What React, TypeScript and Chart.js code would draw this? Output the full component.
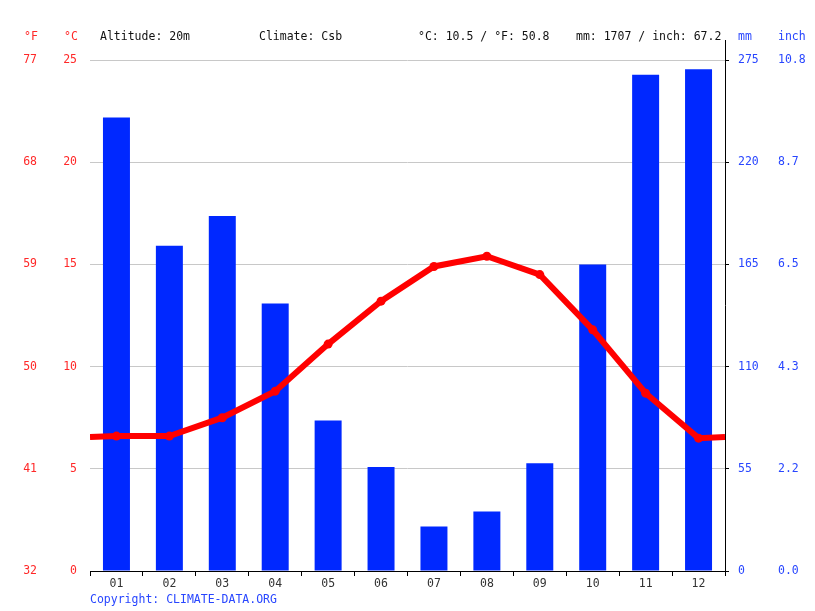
import React, { useEffect, useRef } from "react";
import { Chart, registerables } from "chart.js";

Chart.register(...registerables);

const months = ["01", "02", "03", "04", "05", "06", "07", "08", "09", "10", "11", "12"];
const temperature = [6.6, 6.6, 7.5, 8.8, 11.1, 13.2, 14.9, 15.4, 14.5, 11.8, 8.7, 6.5];
const precipitation = [244, 175, 191, 144, 81, 56, 24, 32, 58, 165, 267, 270];

const fahrenheitTicks = ["32", "41", "50", "59", "68", "77"];
const inchTicks = ["0.0", "2.2", "4.3", "6.5", "8.7", "10.8"];

const FONT = "'DejaVu Sans Mono', monospace";
const RED = "rgb(255, 40, 40)";
const BLUE = "rgb(40, 70, 255)";

// header texts drawn on top of the canvas
const headerPlugin = {
  id: "header",
  afterDraw(chart: any) {
    const { ctx, chartArea } = chart;
    ctx.save();
    ctx.font = `11.5px ${FONT}`;
    ctx.textBaseline = "middle";
    ctx.textAlign = "left";
    ctx.fillStyle = RED;
    ctx.fillText("°F", 24, 37);
    ctx.fillText("°C", 64, 37);
    ctx.fillStyle = "#111";
    ctx.fillText("Altitude: 20m", 100, 37);
    ctx.fillText("Climate: Csb", 259, 37);
    ctx.fillText("°C: 10.5 / °F: 50.8", 418, 37);
    ctx.fillText("mm: 1707 / inch: 67.2", 576, 37);
    ctx.fillStyle = BLUE;
    ctx.fillText("mm", 738, 37);
    ctx.fillText("inch", 778, 37);
    ctx.fillText("Copyright: CLIMATE-DATA.ORG", 90, 600);

    // right axis line goes up past the plot top
    ctx.strokeStyle = "#000";
    ctx.lineWidth = 1;
    ctx.beginPath();
    ctx.moveTo(Math.round(chartArea.right) + 0.5, 40);
    ctx.lineTo(Math.round(chartArea.right) + 0.5, chartArea.bottom);
    ctx.stroke();
    ctx.restore();
  },
};

const App = () => {
  const canvasRef = useRef<HTMLCanvasElement>(null);

  useEffect(() => {
    const edge = (temperature[0] + temperature[11]) / 2;
    const linePoints = [
      { x: 0.5, y: edge },
      ...temperature.map((t, i) => ({ x: i + 1, y: t })),
      { x: 12.5, y: edge },
    ];

    const chart = new Chart(canvasRef.current!, {
      type: "bar",
      data: {
        labels: months,
        datasets: [
          {
            type: "line",
            data: linePoints as any,
            xAxisID: "xl",
            yAxisID: "y",
            borderColor: "rgb(255, 0, 0)",
            backgroundColor: "rgb(255, 0, 0)",
            borderWidth: 6,
            pointRadius: linePoints.map((_, i) => (i === 0 || i === linePoints.length - 1 ? 0 : 4.5)),
            pointBorderWidth: 0,
            pointHoverRadius: 4.5,
            tension: 0,
            order: 1,
          } as any,
          {
            type: "bar",
            data: precipitation,
            xAxisID: "x",
            yAxisID: "yMM",
            backgroundColor: "rgb(0, 40, 255)",
            barPercentage: 0.51,
            categoryPercentage: 1,
            grouped: false,
            order: 2,
          },
        ],
      },
      options: {
        responsive: false,
        animation: false,
        layout: { padding: { top: 60, left: 0, right: 0, bottom: 0 } },
        plugins: {
          legend: { display: false },
          tooltip: { enabled: false },
        },
        scales: {
          x: {
            type: "category",
            position: "bottom",
            offset: true,
            grid: {
              offset: true,
              drawOnChartArea: false,
              drawTicks: true,
              tickLength: 5,
              color: "#000",
            },
            border: { display: true, color: "#000" },
            ticks: {
              color: "#333",
              font: { family: FONT, size: 11.5 },
              padding: 1,
              maxRotation: 0,
            },
            afterFit: (s: any) => {
              s.height = 40;
            },
          },
          xl: {
            type: "linear",
            display: false,
            offset: false,
            min: 0.5,
            max: 12.5,
          },
          y: {
            position: "left",
            weight: 1,
            min: 0,
            max: 25,
            ticks: {
              stepSize: 5,
              color: RED,
              padding: 13,
              font: { family: FONT, size: 11.5 },
            },
            grid: { color: "#c8c8c8", drawTicks: false },
            border: { display: false },
            afterFit: (s: any) => {
              s.width = 50;
            },
          },
          yF: {
            position: "left",
            weight: 2,
            min: 0,
            max: 25,
            ticks: {
              stepSize: 5,
              color: RED,
              padding: 3,
              font: { family: FONT, size: 11.5 },
              callback: (_v: any, i: number) => fahrenheitTicks[i],
            },
            grid: { display: false, drawTicks: false },
            border: { display: false },
            afterFit: (s: any) => {
              s.width = 40;
            },
          },
          yMM: {
            position: "right",
            weight: 1,
            min: 0,
            max: 275,
            ticks: {
              stepSize: 55,
              color: BLUE,
              padding: 9,
              font: { family: FONT, size: 11.5 },
            },
            grid: {
              drawOnChartArea: false,
              drawTicks: true,
              tickLength: 4,
              color: "#000",
            },
            border: { display: false },
            afterFit: (s: any) => {
              s.width = 45;
            },
          },
          yIn: {
            position: "right",
            weight: 2,
            min: 0,
            max: 275,
            ticks: {
              stepSize: 55,
              color: BLUE,
              padding: 8,
              font: { family: FONT, size: 11.5 },
              callback: (_v: any, i: number) => inchTicks[i],
            },
            grid: { display: false, drawTicks: false },
            border: { display: false },
            afterFit: (s: any) => {
              s.width = 45;
            },
          },
        },
      } as any,
      plugins: [headerPlugin],
    });

    return () => {
      chart.destroy();
    };
  }, []);

  return (
    <div style={{ position: "absolute", left: 0, top: 0, width: 815, height: 611, background: "#fff" }}>
      <canvas ref={canvasRef} width={815} height={611}></canvas>
    </div>
  );
};

export default App;
